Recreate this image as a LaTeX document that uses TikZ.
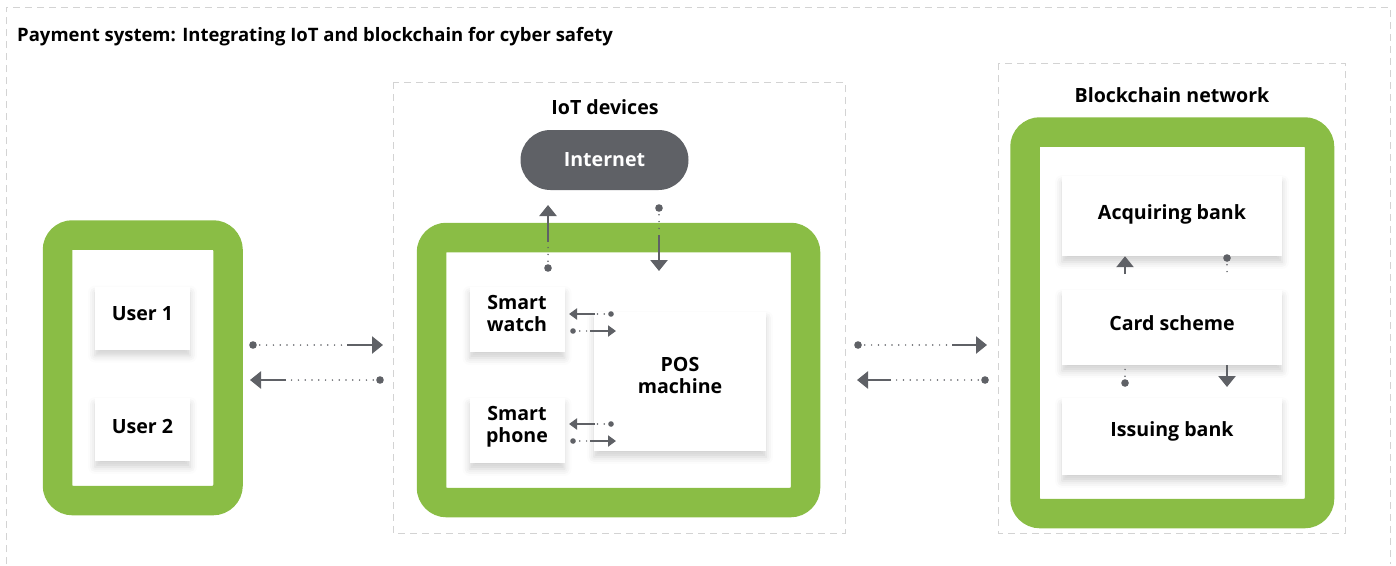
\documentclass[tikz,border=0pt]{standalone}
\usepackage{fontspec}
\setmainfont{Open Sans}
\usepackage{xcolor}
\usetikzlibrary{calc,arrows.meta,shadows.blur}
\definecolor{leafgreen}{HTML}{8ABD45}
\definecolor{slate}{HTML}{5F6166}
\definecolor{dashgray}{HTML}{D3D3D3}

\tikzset{
  zone/.style={draw=dashgray, line width=1pt, dash pattern=on 7pt off 5pt},
  greenwall/.style={draw=leafgreen, line width=29.5pt, rounded corners=15pt},
  heading/.style={font=\bfseries\fontsize{19.6}{22}\selectfont, inner sep=0pt},
  card/.style={fill=white, inner sep=0pt,
    blur shadow={shadow xshift=0pt, shadow yshift=-6pt, shadow blur radius=7pt, shadow opacity=18}},
  cardtext/.style={align=center, inner sep=0pt, yshift=4pt,
    font=\bfseries\fontsize{19.6}{22}\selectfont},
  dotflow/.style={draw=slate, line width=1.7pt, dash pattern=on 0pt off 6.8pt, line cap=round},
  bigflow/.style={draw=slate, line width=2.6pt, -{Triangle[length=11pt,width=17pt]}},
  smallflow/.style={draw=slate, line width=2pt, -{Triangle[length=8pt,width=11pt]}},
}

% dot, dotted run, then solid run with tip
\newcommand\flowline[5]{%
  \fill[slate] (#2) circle (#5);
  \draw[dotflow] (#2) -- (#3);
  \draw[#1] (#3) -- (#4);}

\begin{document}
\begin{tikzpicture}[x=1pt, y=-1pt]
    \useasboundingbox (0,0) rectangle (1396,565);

    \node[font=\bfseries\fontsize{18.5}{22}\selectfont, anchor=west, inner sep=0pt] (title) at (17,37)
        {Payment system: Integrating IoT and blockchain for cyber safety};

    \draw[zone] (6,564) |- (1390,7) -- (1390,564);
    \draw[zone] (393,82) rectangle (845,533);
    \draw[zone] (998,63) rectangle (1345,533);
    \node[heading] (iothead) at (605,107) {IoT devices};
    \node[heading] (chainhead) at (1172,95) {Blockchain network};

    \draw[greenwall] (57.5,235) rectangle (228,500.5);
    \draw[greenwall] (431.5,237.5) rectangle (805.5,502.5);
    \draw[greenwall] (1025,132) rectangle (1319.5,513.5);

    \node[fill=slate, text=white, rounded corners=30pt, minimum width=168pt, minimum height=60pt,
        font=\bfseries\fontsize{19.6}{22}\selectfont] (internet) at (604.5,160) {Internet};

    \node[card, minimum width=95pt, minimum height=63pt, label={[cardtext]center:User 1}] (user1) at (142.5,318) {};
    \node[card, minimum width=95pt, minimum height=63pt, label={[cardtext, yshift=-1pt]center:User 2}] (user2) at (142.5,429.5) {};
    \node[card, minimum width=95pt, minimum height=65pt, label={[cardtext, yshift=2pt]center:Smart\\watch}] (watch) at (517,319.5) {};
    \node[card, minimum width=95pt, minimum height=65pt, label={[cardtext]center:Smart\\phone}] (phone) at (517,430.5) {};
    \node[card, minimum width=172pt, minimum height=139pt, label={[cardtext, yshift=2pt]center:POS\\machine}] (pos) at (680,381.5) {};
    \node[card, minimum width=220pt, minimum height=80pt, label={[cardtext, yshift=-2pt]center:Acquiring bank}] (acquirer) at (1172,216) {};
    \node[card, minimum width=220pt, minimum height=75pt, label={[cardtext]center:Card scheme}] (scheme) at (1172,327.5) {};
    \node[card, minimum width=220pt, minimum height=77pt, label={[cardtext, yshift=1pt]center:Issuing bank}] (issuer) at (1172,436.5) {};

    \foreach \n/\p in {ua/{253,345}, ub/{347,345}, uc/{383,345},
                       va/{380,380}, vb/{286,380}, vc/{250,380},
                       ba/{858,345}, bb/{952,345}, bc/{987,345},
                       ca/{985,380}, cb/{891,380}, cc/{857,380},
                       ia/{548,268}, ib/{548,242}, ic/{548,205},
                       ja/{659,208}, jb/{659,235}, jc/{659,271},
                       ka/{1125,0}, la/{1227,0}}
        \coordinate (\n) at (\p);

    \flowline{bigflow}{ua}{ub}{uc}{3.8}
    \flowline{bigflow}{va}{vb}{vc}{3.8}
    \flowline{bigflow}{ba}{bb}{bc}{3.8}
    \flowline{bigflow}{ca}{cb}{cc}{3.8}
    \flowline{bigflow}{ia}{ib}{ic}{3.8}
    \flowline{bigflow}{ja}{jb}{jc}{3.8}

    % device <-> POS
    \foreach \y in {314,424} {
        \flowline{smallflow}{611,\y}{595,\y}{569,\y}{2.8}
        \flowline{smallflow}{573,\y+17}{590,\y+17}{616,\y+17}{2.8}
    }

    % inside the chain
    \draw[bigflow] (1125,274) -- (acquirer.south -| ka);
    \fill[slate] (1227,258) circle (3.8);
    \draw[dotflow] (1227,258) -- (1227,273);
    \fill[slate] (1125,383) circle (3.8);
    \draw[dotflow] (1125,383) -- (scheme.south -| ka);
    \draw[bigflow] (scheme.south -| la) -- (1227,387);
\end{tikzpicture}
\end{document}
